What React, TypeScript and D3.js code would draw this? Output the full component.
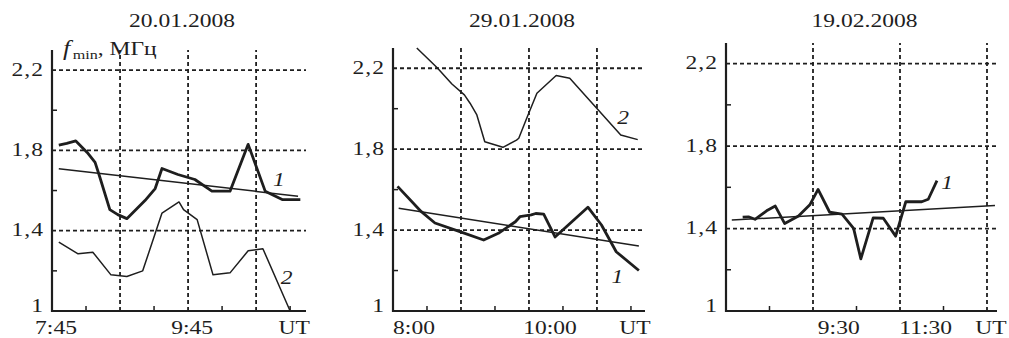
import React from "react";
import * as d3 from "d3";

// time in minutes after midnight, value in MHz
const day1Curve1 = [[471, 1.826], [478, 1.835], [486, 1.847], [496, 1.79], [503, 1.74], [507, 1.67], [516, 1.505], [523, 1.48], [531, 1.46], [547, 1.55], [556, 1.61], [562, 1.71], [576, 1.68], [591, 1.655], [606, 1.597], [622, 1.597], [638, 1.83], [653, 1.597], [668, 1.555], [684, 1.555]];
const day1Curve2 = [[471, 1.343], [488, 1.285], [501, 1.293], [517, 1.18], [531, 1.172], [545, 1.2], [562, 1.488], [577, 1.543], [581, 1.505], [593, 1.455], [607, 1.18], [622, 1.19], [638, 1.3], [651, 1.31], [675, 1.0]];
const day1Trend = [[471, 1.708], [682, 1.572]];

const day2Curve1 = [[469, 1.616], [490, 1.491], [502, 1.435], [524, 1.392], [545, 1.351], [558, 1.384], [573, 1.441], [577, 1.466], [587, 1.475], [591, 1.482], [598, 1.479], [608, 1.366], [637, 1.513], [649, 1.425], [662, 1.293], [682, 1.2]];
const day2Curve2 = [[486, 2.3], [504, 2.202], [517, 2.122], [528, 2.068], [533, 2.027], [539, 1.969], [546, 1.837], [562, 1.809], [574, 1.845], [576, 1.854], [583, 1.953], [592, 2.076], [609, 2.164], [621, 2.15], [643, 2.013], [666, 1.87], [681, 1.847]];
const day2Trend = [[470, 1.508], [682, 1.321]];

const day3Curve1 = [[443, 1.455], [451, 1.457], [460, 1.445], [476, 1.486], [488, 1.509], [501, 1.424], [520, 1.461], [536, 1.517], [547, 1.59], [563, 1.479], [580, 1.47], [596, 1.401], [606, 1.253], [623, 1.452], [637, 1.45], [654, 1.363], [668, 1.53], [690, 1.53], [699, 1.542], [711, 1.632]];
const day3Trend = [[428, 1.441], [791, 1.512]];

const titles = ["20.01.2008", "29.01.2008", "19.02.2008"];
const yGrid = [1.4, 1.8, 2.2];
const yMinor = [1.2, 1.6, 2.0];
const yLabels = [[1, "1"], [1.4, "1,4"], [1.8, "1,8"], [2.2, "2,2"]];

const xGrid12 = [525, 585, 645];
const xMinor12 = [495, 555, 615, 675];
const xGrid3 = [540, 660, 780];
const xMinor3 = [480, 600, 720];
const xLabels1 = [[465, "7:45"], [585, "9:45"], [675, "UT"]];
const xLabels2 = [[480, "8:00"], [600, "10:00"], [675, "UT"]];
const xLabels3 = [[570, "9:30"], [690, "11:30"], [780, "UT"]];

const lineLabels1 = [[665, 1.625, "1"], [672, 1.135, "2"]];
const lineLabels2 = [[668, 1.924, "2"], [663, 1.138, "1"]];
const lineLabels3 = [[725, 1.592, "1"]];

const panels = [
  { title: titles[0], x0: 52, x1: 306, top: 50, dom: [465, 689], grid: xGrid12, minor: xMinor12, xl: xLabels1, thick: [day1Curve1], thin: [day1Curve2, day1Trend], ll: lineLabels1 },
  { title: titles[1], x0: 393, x1: 645, top: 48, dom: [465, 687.4], grid: xGrid12, minor: xMinor12, xl: xLabels2, thick: [day2Curve1], thin: [day2Curve2, day2Trend], ll: lineLabels2 },
  { title: titles[2], x0: 726, x1: 997, top: 43, dom: [420, 793.8], grid: xGrid3, minor: xMinor3, xl: xLabels3, thick: [day3Curve1], thin: [day3Trend], ll: lineLabels3 },
];

const INK = "#1e1e1e";
const FONT = "'Liberation Serif', 'Times New Roman', serif";
const SX = 1.24;
const BOTTOM = 311;

const T = ({ x, y, anchor = "middle", italic = false, size = 19, spacing = 0, children }: any) => (
  <g transform={`translate(${x},${y}) scale(${SX},1)`}>
    <text textAnchor={anchor} fontFamily={FONT} fontSize={size} letterSpacing={spacing} fontStyle={italic ? "italic" : "normal"} fill={INK}>
      {children}
    </text>
  </g>
);

const Panel = ({ p }: any) => {
  const x = d3.scaleLinear().domain(p.dom).range([p.x0, p.x1]);
  const y = d3.scaleLinear().domain([1, 2.3]).range([BOTTOM, p.top]);
  const line = d3.line<number[]>().x((d) => x(d[0])).y((d) => y(d[1]));
  return (
    <g>
      <T x={(p.x0 + p.x1) / 2 + 3} y={27}>{p.title}</T>
      {yGrid.map((v) => (
        <line key={"hg" + v} x1={p.x0} x2={p.x1} y1={y(v)} y2={y(v)} stroke={INK} strokeWidth={1.8} strokeDasharray="4,3" />
      ))}
      {p.grid.map((t: number) => (
        <line key={"vg" + t} x1={x(t)} x2={x(t)} y1={BOTTOM} y2={p.top} stroke={INK} strokeWidth={1.8} strokeDasharray="4,3" />
      ))}
      {yMinor.map((v) => (
        <line key={"ym" + v} x1={p.x0} x2={p.x0 + 5} y1={y(v)} y2={y(v)} stroke={INK} strokeWidth={1.5} />
      ))}
      {p.minor.map((t: number) => (
        <line key={"xm" + t} x1={x(t)} x2={x(t)} y1={BOTTOM} y2={BOTTOM - 5} stroke={INK} strokeWidth={1.5} />
      ))}
      <path d={`M${p.x0},${p.top}V${BOTTOM}H${p.x1}`} fill="none" stroke={INK} strokeWidth={2.2} />
      {yLabels.map(([v, s]: any) => (
        <T key={"yl" + v} x={p.x0 - 8} y={Math.min(y(v) + 5.5, 312)} anchor="end" spacing={0.8}>{s}</T>
      ))}
      {p.xl.map(([t, s]: any) => (
        <T key={"xl" + s} x={x(t) + 4} y={333.5}>{s}</T>
      ))}
      {p.thin.map((d: number[][], i: number) => (
        <path key={"tn" + i} d={line(d) || ""} fill="none" stroke={INK} strokeWidth={1.5} strokeLinejoin="round" />
      ))}
      {p.thick.map((d: number[][], i: number) => (
        <path key={"tk" + i} d={line(d) || ""} fill="none" stroke={INK} strokeWidth={2.8} strokeLinejoin="round" />
      ))}
      {p.ll.map(([t, v, s]: any) => (
        <T key={"ll" + s} x={x(t)} y={y(v)} italic>{s}</T>
      ))}
    </g>
  );
};

export default function App() {
  return (
    <svg width={1009} height={338} style={{ position: "absolute", left: 0, top: 0, background: "#fff" }}>
      <rect width={1009} height={338} fill="#fff" />
      {panels.map((p, i) => (
        <Panel key={i} p={p} />
      ))}
      <g transform={`translate(63,55) scale(${SX},1)`}>
        <text fontFamily={FONT} fontSize={19} fill={INK}>
          <tspan fontStyle="italic" fontSize={21}>f</tspan>
          <tspan fontSize={13} dx={2} dy={4}>min</tspan>
          <tspan dy={-4}>, МГц</tspan>
        </text>
      </g>
    </svg>
  );
}
